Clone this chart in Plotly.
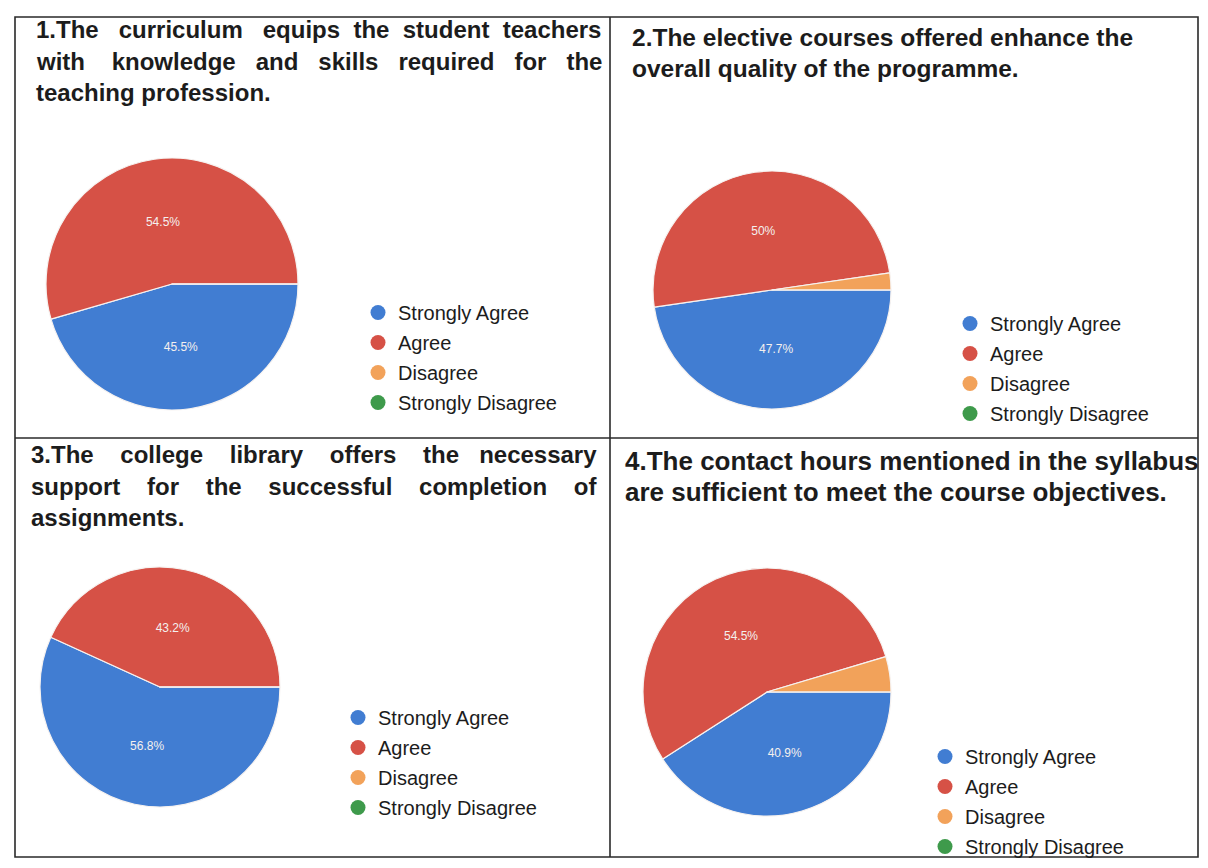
import plotly.graph_objects as go

# page body has an 8px margin, so the figure starts at (8, 8) on screen;
# keep it small enough that the page does not overflow the window
OFF = 8
W, H = 1208 - 2 * OFF, 868 - 2 * OFF - 1

categories = ["Strongly Agree", "Agree", "Disagree", "Strongly Disagree"]

# percent of responses per panel
q1_values = [45.5, 54.5, 0, 0]
q2_values = [47.7, 50.0, 2.3, 0]
q3_values = [56.8, 43.2, 0, 0]
q4_values = [40.9, 54.5, 4.6, 0]

q1_title = ["1.The curriculum equips the student teachers",
            "with knowledge and skills required for the",
            "teaching profession."]
q2_title = ["2.The elective courses offered enhance the",
            "overall quality of the programme."]
q3_title = ["3.The college library offers the necessary",
            "support for the successful completion of",
            "assignments."]
q4_title = ["4.The contact hours mentioned in the syllabus",
            "are sufficient to meet the course objectives."]

COLORS = ["#417dd2", "#d65146", "#f2a25a", "#3e9a4b"]
INK = "#1c1c1c"
NB = "\u00a0"
FONT = "Arial, Liberation Sans, sans-serif"


def px_x(x):
    return (x - OFF) / W


def px_y(y):
    return 1 - (y - OFF) / H


def justify(line, extra):
    # spread `extra` non-breaking spaces over the gaps between words
    words = line.split(" ")
    gaps = len(words) - 1
    if not extra or gaps == 0:
        return line
    out = words[0]
    for g, w in enumerate(words[1:]):
        n = extra // gaps + (1 if g < extra % gaps else 0)
        out += " " + NB * n + w
    return out


# per panel: pie center, diameter, title start x/y, title size, justified-line extra spaces, legend position
panels = [
    dict(vals=q1_values, title=q1_title, cx=172, cy=284, d=252, tx=34, ty=30, fs=24, pad=[7, 13, 0], lx=358, ly=293),
    dict(vals=q2_values, title=q2_title, cx=772, cy=290, d=238, tx=630, ty=38, fs=24.5, pad=[0, 0], lx=950, ly=304),
    dict(vals=q3_values, title=q3_title, cx=160, cy=687, d=240, tx=29, ty=455, fs=24, pad=[14, 15, 0], lx=338, ly=698),
    dict(vals=q4_values, title=q4_title, cx=767, cy=692, d=248, tx=623, ty=461, fs=26, pad=[0, 0], lx=925, ly=737),
]

fig = go.Figure()
annotations = []

for i, p in enumerate(panels):
    r = p["d"] / 2
    text = [f"{v:g}%" if v >= 10 else "" for v in p["vals"]]
    fig.add_trace(go.Pie(
        labels=categories,
        values=p["vals"],
        text=text,
        textinfo="text",
        textposition="inside",
        insidetextorientation="horizontal",
        textfont=dict(family=FONT, size=12, color="#f4f0ee"),
        marker=dict(colors=COLORS, line=dict(color="#f6f2f0", width=1.2)),
        sort=False,
        direction="clockwise",
        rotation=90,
        showlegend=False,
        domain=dict(x=[px_x(p["cx"] - r), px_x(p["cx"] + r)],
                    y=[px_y(p["cy"] + r), px_y(p["cy"] - r)]),
        hoverinfo="label+percent",
    ))
    lname = "legend" if i == 0 else f"legend{i + 1}"
    for c, col in zip(categories, COLORS):
        fig.add_trace(go.Scatter(
            x=[None], y=[None], mode="markers", name=c,
            marker=dict(symbol="circle", size=15, color=col),
            legend=lname, legendgroup=f"{c}{i}", showlegend=True,
        ))
    for k, line in enumerate(p["title"]):
        annotations.append(dict(
            text=f"<b>{justify(line, p['pad'][k])}</b>", x=px_x(p["tx"]), y=px_y(p["ty"] + k * 31),
            xref="paper", yref="paper", xanchor="left", yanchor="middle",
            showarrow=False, font=dict(family=FONT, size=p["fs"], color=INK),
        ))

legend_style = dict(
    font=dict(family=FONT, size=20, color=INK),
    bgcolor="rgba(0,0,0,0)", tracegroupgap=1, xanchor="left", yanchor="top",
    itemclick=False, itemdoubleclick=False,
)
legends = {}
for i, p in enumerate(panels):
    key = "legend" if i == 0 else f"legend{i + 1}"
    legends[key] = dict(x=px_x(p["lx"]), y=px_y(p["ly"]), **legend_style)

# panel frame
L, T, R, B, MX, MY = 15, 17, 1198, 857, 610, 438
line = dict(color="#2a2a2a", width=1.6)
shapes = [
    dict(type="rect", xref="paper", yref="paper", x0=px_x(L), x1=px_x(R), y0=px_y(B), y1=px_y(T), line=line),
    dict(type="line", xref="paper", yref="paper", x0=px_x(MX), x1=px_x(MX), y0=px_y(B), y1=px_y(T), line=line),
    dict(type="line", xref="paper", yref="paper", x0=px_x(L), x1=px_x(R), y0=px_y(MY), y1=px_y(MY), line=line),
]

fig.update_layout(
    width=W, height=H,
    margin=dict(l=0, r=0, t=0, b=0, autoexpand=False),
    paper_bgcolor="#ffffff", plot_bgcolor="#ffffff",
    xaxis=dict(visible=False), yaxis=dict(visible=False),
    annotations=annotations, shapes=shapes,
    **legends,
)

fig.write_html("out.html")
